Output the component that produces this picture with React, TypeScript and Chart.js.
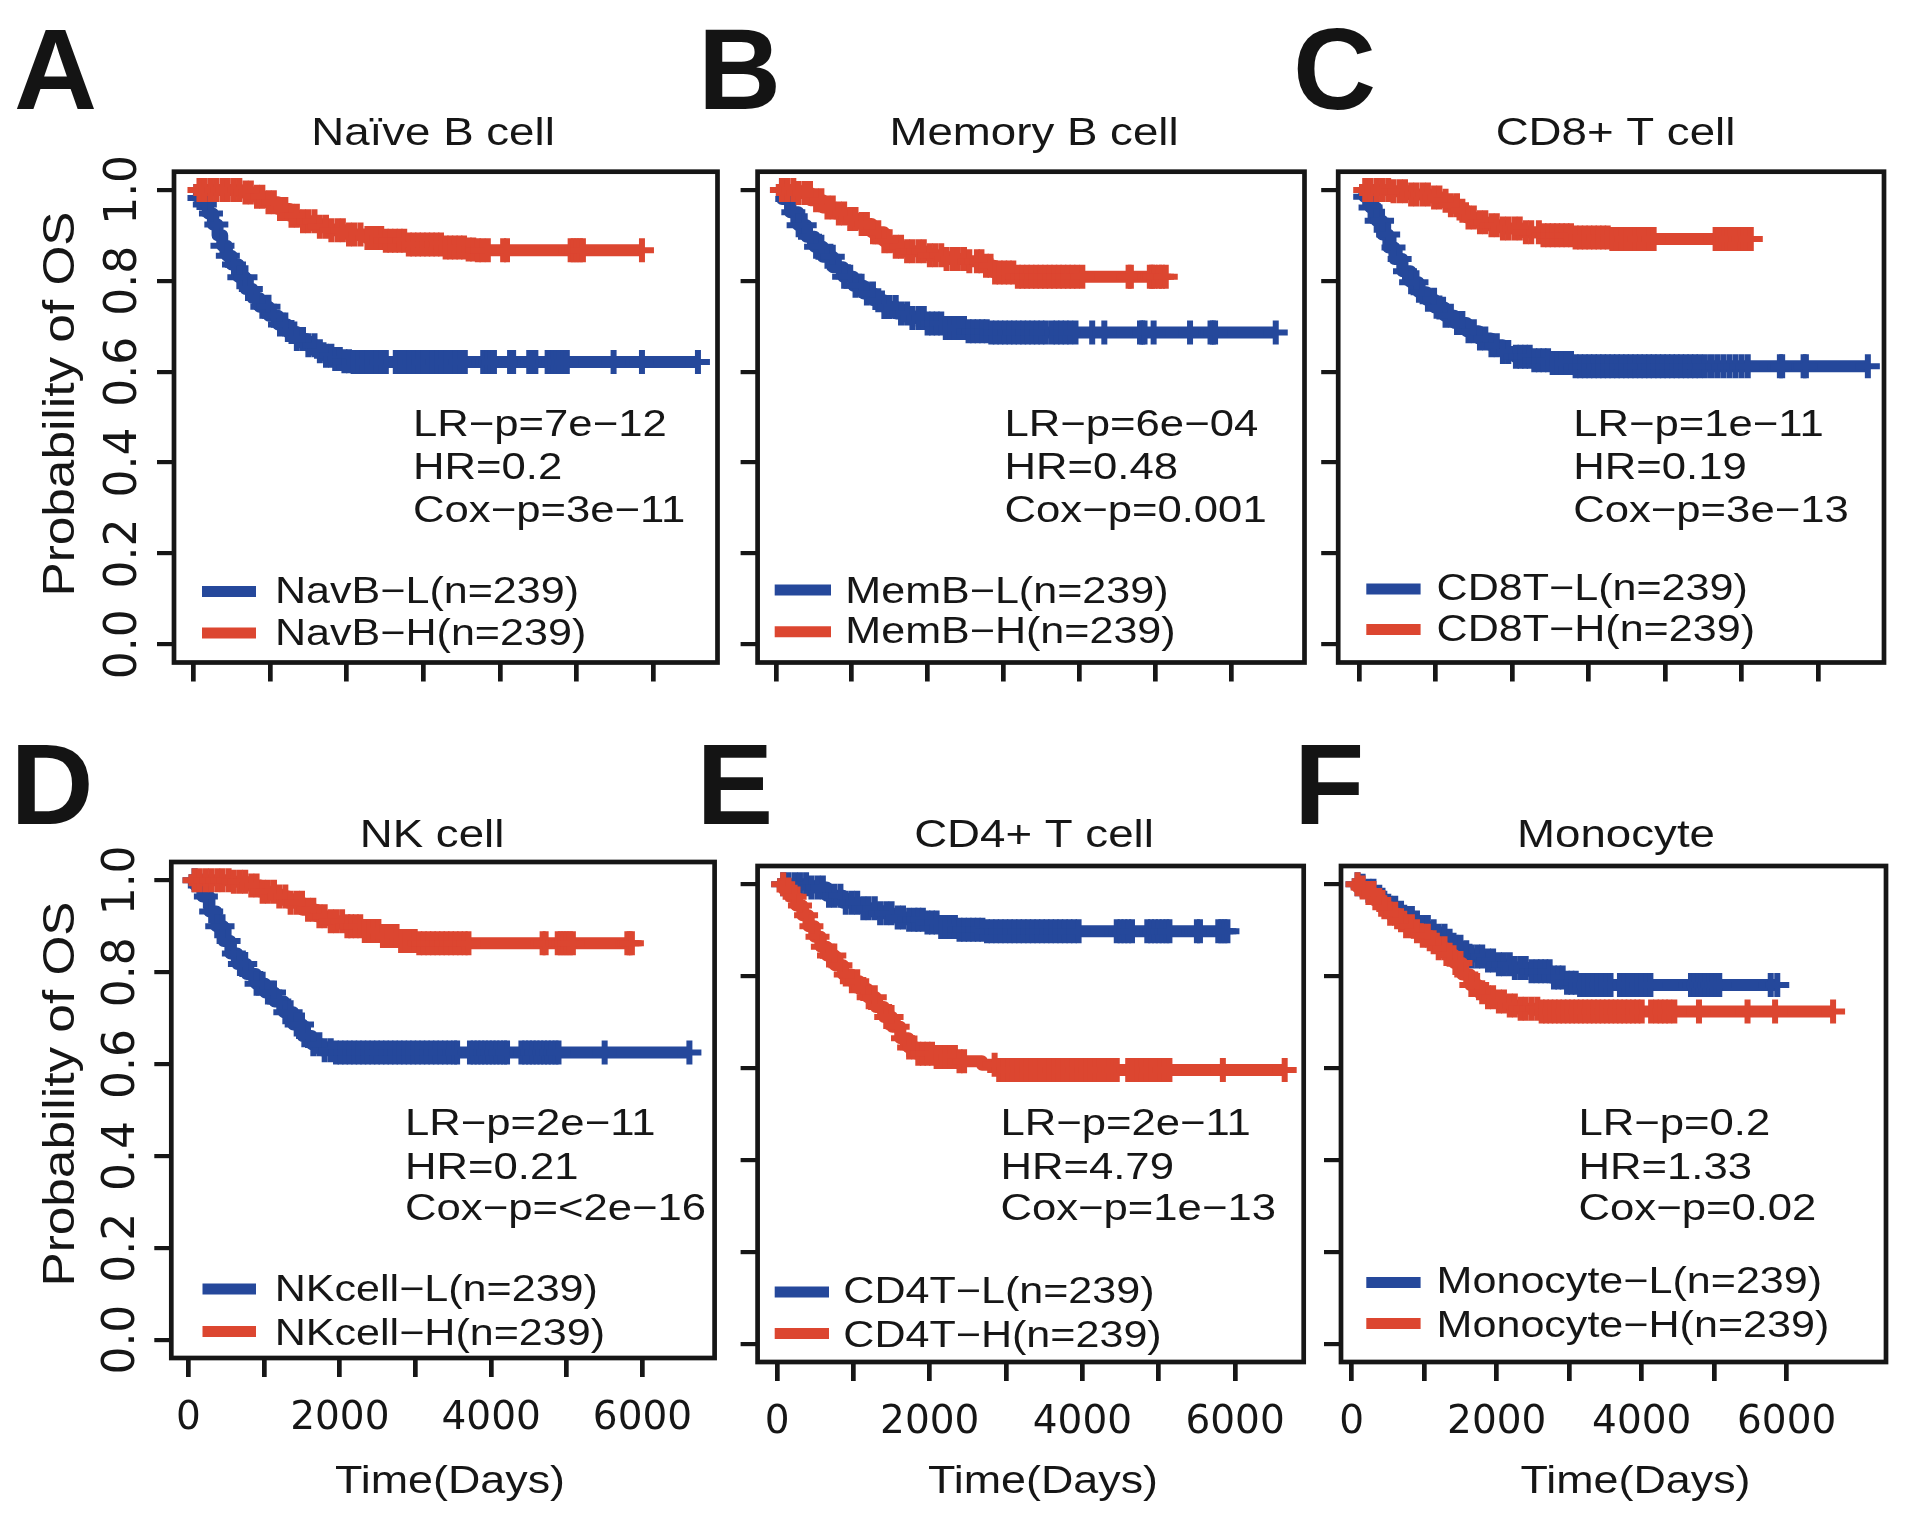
import React, { useEffect, useRef } from "react";
import { Chart, registerables } from "chart.js";

Chart.register(...registerables);

const W = 1920;
const H = 1527;
const BLUE = "#25489b";
const RED = "#dc4630";
const INK = "#161616";
const SX = 1.18; // horizontal widening of the text face

// ---------- axis ticks ----------
const xTickValues = [0, 1000, 2000, 3000, 4000, 5000, 6000];
const xTickLabels = ["0", "", "2000", "", "4000", "", "6000"];
const yTickValues = [0, 0.2, 0.4, 0.6, 0.8, 1.0];
const yTickLabels = ["0.0", "0.2", "0.4", "0.6", "0.8", "1.0"];

// ---------- texts ----------
const panelLetters = ["A", "B", "C", "D", "E", "F"];
const panelTitles = ["Naïve B cell", "Memory B cell", "CD8+ T cell", "NK cell", "CD4+ T cell", "Monocyte"];
const lowLabels = ["NavB−L(n=239)", "MemB−L(n=239)", "CD8T−L(n=239)", "NKcell−L(n=239)", "CD4T−L(n=239)", "Monocyte−L(n=239)"];
const highLabels = ["NavB−H(n=239)", "MemB−H(n=239)", "CD8T−H(n=239)", "NKcell−H(n=239)", "CD4T−H(n=239)", "Monocyte−H(n=239)"];
const lrText = ["LR−p=7e−12", "LR−p=6e−04", "LR−p=1e−11", "LR−p=2e−11", "LR−p=2e−11", "LR−p=0.2"];
const hrText = ["HR=0.2", "HR=0.48", "HR=0.19", "HR=0.21", "HR=4.79", "HR=1.33"];
const coxText = ["Cox−p=3e−11", "Cox−p=0.001", "Cox−p=3e−13", "Cox−p=<2e−16", "Cox−p=1e−13", "Cox−p=0.02"];
const yTitle = "Probability of OS";
const xTitle = "Time(Days)";

// ---------- Kaplan-Meier curves: step times (days), survival, censoring times ----------
// A  Naive B cell
const navbLTimes = [0, 73, 134, 195, 255, 316, 377, 438, 498, 590, 681, 772, 863, 985, 1106, 1228, 1350, 1471, 1593, 1714, 1836, 1957, 2079];
const navbLSurv = [1.0, 0.982, 0.968, 0.948, 0.924, 0.9, 0.877, 0.855, 0.836, 0.808, 0.782, 0.762, 0.743, 0.723, 0.704, 0.687, 0.672, 0.658, 0.645, 0.635, 0.628, 0.623, 0.621];
const navbLCensor = [80, 150, 230, 300, 380, 450, 530, 600, 680, 750, 830, 900, 980, 1050, 1130, 1200, 1280, 1350, 1430, 1500, 1580, 1650, 1730, 1800, 1850, 1910, 1970, 2030, 2090, 2150, 2210, 2270, 2330, 2390, 2450, 2510, 2640, 2700, 2760, 2820, 2880, 2940, 3000, 3060, 3120, 3180, 3240, 3300, 3360, 3420, 3480, 3540, 3780, 3830, 3880, 3920, 4130, 4170, 4380, 4420, 4460, 4620, 4660, 4700, 4740, 4780, 4830, 4870, 5480, 5850, 6580];
const navbHTimes = [0, 316, 620, 802, 954, 1106, 1258, 1410, 1593, 1775, 2018, 2261, 2505, 2808, 3234, 3538, 3700];
const navbHSurv = [1.0, 1.0, 0.994, 0.985, 0.973, 0.958, 0.943, 0.931, 0.919, 0.911, 0.902, 0.894, 0.888, 0.88, 0.873, 0.869, 0.867];
const navbHCensor = [80, 150, 230, 300, 380, 450, 530, 600, 680, 750, 830, 900, 980, 1050, 1130, 1200, 1280, 1350, 1430, 1500, 1580, 1650, 1730, 1800, 1880, 1950, 2030, 2100, 2180, 2270, 2330, 2390, 2450, 2510, 2570, 2630, 2690, 2750, 2810, 2870, 2930, 2990, 3050, 3110, 3170, 3230, 3290, 3350, 3410, 3470, 3530, 3590, 3650, 3710, 3770, 3840, 4040, 4090, 4920, 4960, 5000, 5040, 5080, 5850];

// B  Memory B cell
const membLTimes = [0, 81, 188, 296, 404, 511, 619, 753, 888, 1023, 1157, 1292, 1426, 1588, 1749, 1964, 2234, 2503, 2826];
const membLSurv = [1.0, 0.98, 0.951, 0.922, 0.897, 0.875, 0.853, 0.83, 0.809, 0.789, 0.772, 0.757, 0.742, 0.728, 0.718, 0.706, 0.696, 0.689, 0.686];
const membLCensor = [80, 150, 230, 300, 380, 450, 530, 600, 680, 750, 830, 900, 980, 1050, 1130, 1200, 1280, 1350, 1430, 1500, 1580, 1650, 1730, 1800, 1880, 1950, 2000, 2060, 2120, 2180, 2240, 2300, 2360, 2420, 2480, 2540, 2600, 2660, 2720, 2780, 2840, 2900, 2960, 3020, 3080, 3140, 3200, 3260, 3320, 3380, 3440, 3500, 3560, 3640, 3700, 3760, 3820, 3880, 3950, 4170, 4330, 4800, 4830, 4860, 4980, 5460, 5730, 5760, 5790, 6590];
const membHTimes = [0, 135, 296, 457, 619, 780, 942, 1103, 1265, 1426, 1534, 1695, 1964, 2234, 2503, 2718, 2880, 3149];
const membHSurv = [1.0, 1.0, 0.993, 0.977, 0.961, 0.948, 0.936, 0.925, 0.907, 0.887, 0.875, 0.865, 0.856, 0.848, 0.843, 0.833, 0.818, 0.809];
const membHCensor = [80, 150, 230, 300, 380, 450, 530, 600, 680, 750, 830, 900, 980, 1050, 1130, 1200, 1280, 1350, 1430, 1500, 1580, 1650, 1730, 1800, 1880, 1950, 2030, 2100, 2180, 2250, 2330, 2400, 2480, 2550, 2650, 2710, 2770, 2830, 2890, 2950, 3010, 3070, 3130, 3190, 3250, 3310, 3370, 3430, 3490, 3550, 3610, 3670, 3730, 3790, 3850, 3910, 3970, 4040, 4650, 4680, 4930, 4960, 4990, 5050, 5090, 5140];

// C  CD8+ T cell
const cd8LTimes = [0, 68, 147, 226, 304, 383, 462, 567, 672, 777, 882, 987, 1118, 1249, 1407, 1564, 1722, 1879, 2037, 2247, 2509, 2772];
const cd8LSurv = [1.0, 0.985, 0.961, 0.932, 0.902, 0.873, 0.848, 0.821, 0.797, 0.775, 0.758, 0.741, 0.723, 0.707, 0.689, 0.673, 0.658, 0.643, 0.633, 0.625, 0.619, 0.612];
const cd8LCensor = [80, 150, 230, 300, 380, 450, 530, 600, 680, 750, 830, 900, 980, 1050, 1130, 1200, 1280, 1350, 1430, 1500, 1580, 1650, 1730, 1800, 1880, 1950, 2050, 2110, 2170, 2230, 2290, 2350, 2410, 2470, 2530, 2590, 2650, 2710, 2770, 2830, 2890, 2950, 3010, 3070, 3130, 3190, 3250, 3310, 3370, 3430, 3490, 3550, 3610, 3670, 3730, 3790, 3850, 3910, 3970, 4030, 4090, 4150, 4210, 4270, 4330, 4390, 4450, 4520, 4600, 4680, 4760, 4840, 4920, 5000, 5080, 5500, 5530, 5810, 5840, 6650];
const cd8HTimes = [0, 147, 409, 672, 934, 1092, 1197, 1302, 1407, 1512, 1669, 1879, 2142, 2404, 2772, 3297];
const cd8HSurv = [1.0, 1.0, 0.997, 0.99, 0.983, 0.976, 0.966, 0.954, 0.939, 0.929, 0.922, 0.915, 0.907, 0.9, 0.895, 0.892];
const cd8HCensor = [80, 150, 230, 300, 380, 450, 530, 600, 680, 750, 830, 900, 980, 1050, 1130, 1200, 1280, 1350, 1430, 1500, 1580, 1650, 1730, 1800, 1880, 1950, 2030, 2100, 2180, 2250, 2350, 2410, 2470, 2530, 2590, 2650, 2710, 2770, 2830, 2890, 2950, 3010, 3070, 3130, 3190, 3250, 3310, 3370, 3430, 3490, 3550, 3610, 3670, 3730, 3790, 3850, 4660, 4700, 4740, 4780, 4820, 4860, 4900, 4940, 4980, 5020, 5060, 5100, 5120];

// D  NK cell
const nkLTimes = [0, 92, 185, 277, 369, 462, 554, 646, 769, 892, 1015, 1138, 1262, 1385, 1508, 1631, 1754, 1938];
const nkLSurv = [1.0, 0.989, 0.965, 0.932, 0.9, 0.868, 0.841, 0.818, 0.796, 0.775, 0.756, 0.736, 0.713, 0.686, 0.661, 0.643, 0.63, 0.625];
const nkLCensor = [80, 150, 230, 300, 380, 450, 530, 600, 680, 750, 830, 900, 980, 1050, 1130, 1200, 1280, 1350, 1430, 1500, 1580, 1650, 1730, 1800, 1880, 1950, 2010, 2070, 2130, 2190, 2250, 2310, 2370, 2430, 2490, 2550, 2610, 2670, 2730, 2790, 2850, 2910, 2970, 3030, 3090, 3150, 3210, 3270, 3330, 3390, 3450, 3510, 3550, 3720, 3770, 3820, 3870, 3920, 3970, 4020, 4070, 4120, 4170, 4210, 4400, 4450, 4500, 4550, 4600, 4650, 4700, 4750, 4800, 4850, 4890, 5500, 6620];
const nkHTimes = [0, 585, 769, 954, 1138, 1323, 1508, 1692, 1877, 2062, 2308, 2554, 2800, 3046];
const nkHSurv = [1.0, 0.997, 0.989, 0.975, 0.965, 0.951, 0.936, 0.922, 0.911, 0.9, 0.89, 0.879, 0.868, 0.863];
const nkHCensor = [80, 150, 230, 300, 380, 450, 530, 600, 680, 750, 830, 900, 980, 1050, 1130, 1200, 1280, 1350, 1430, 1500, 1580, 1650, 1730, 1800, 1880, 1950, 2030, 2100, 2150, 2210, 2270, 2330, 2390, 2450, 2510, 2570, 2630, 2690, 2750, 2810, 2870, 2930, 2990, 3050, 3110, 3170, 3230, 3290, 3350, 3410, 3470, 3530, 3590, 3650, 3700, 4680, 4720, 4880, 4920, 4960, 5000, 5040, 5080, 5800, 5830, 5860];

// E  CD4+ T cell
const cd4LTimes = [0, 225, 439, 652, 866, 1080, 1294, 1508, 1722, 1936, 2150, 2364, 2738];
const cd4LSurv = [1.0, 1.0, 0.993, 0.975, 0.96, 0.948, 0.937, 0.928, 0.923, 0.917, 0.907, 0.901, 0.898];
const cd4LCensor = [80, 150, 230, 300, 380, 450, 530, 600, 680, 750, 830, 900, 980, 1050, 1130, 1200, 1280, 1350, 1430, 1500, 1580, 1650, 1730, 1800, 1850, 1910, 1970, 2030, 2090, 2150, 2210, 2270, 2330, 2390, 2450, 2510, 2570, 2630, 2690, 2750, 2810, 2870, 2930, 2990, 3050, 3110, 3170, 3230, 3290, 3350, 3410, 3470, 3530, 3590, 3650, 3710, 3770, 3830, 3890, 3950, 4450, 4500, 4550, 4600, 4650, 4850, 4900, 4950, 5000, 5050, 5100, 5140, 5500, 5540, 5780, 5820, 5860, 5900];
const cd4HTimes = [0, 91, 171, 251, 332, 412, 492, 572, 652, 759, 866, 973, 1080, 1187, 1294, 1401, 1508, 1615, 1722, 1829, 2043, 2364, 2684, 2898];
const cd4HSurv = [1.0, 0.989, 0.973, 0.954, 0.933, 0.909, 0.886, 0.864, 0.845, 0.824, 0.804, 0.789, 0.772, 0.754, 0.733, 0.711, 0.69, 0.665, 0.645, 0.631, 0.624, 0.615, 0.607, 0.596];
const cd4HCensor = [80, 150, 230, 300, 380, 450, 530, 600, 680, 750, 830, 900, 980, 1050, 1130, 1200, 1280, 1350, 1430, 1500, 1580, 1650, 1730, 1800, 1850, 1910, 1970, 2030, 2090, 2150, 2210, 2270, 2330, 2390, 2450, 2850, 2910, 2970, 3030, 3090, 3150, 3210, 3270, 3330, 3390, 3450, 3510, 3570, 3630, 3690, 3750, 3810, 3870, 3930, 3990, 4050, 4110, 4170, 4230, 4290, 4350, 4410, 4450, 4600, 4660, 4720, 4780, 4840, 4900, 4960, 5020, 5080, 5140, 5840, 6650];

// F  Monocyte
const monoLTimes = [0, 83, 194, 305, 416, 526, 637, 748, 859, 970, 1080, 1191, 1302, 1413, 1524, 1634, 1801, 1967, 2188, 2465, 2742, 2964, 3130];
const monoLSurv = [1.0, 0.997, 0.986, 0.973, 0.96, 0.949, 0.938, 0.927, 0.917, 0.907, 0.898, 0.888, 0.877, 0.864, 0.852, 0.843, 0.834, 0.826, 0.818, 0.811, 0.797, 0.786, 0.781];
const monoLCensor = [80, 150, 230, 300, 380, 450, 530, 600, 680, 750, 830, 900, 980, 1050, 1130, 1200, 1280, 1350, 1430, 1500, 1580, 1650, 1730, 1800, 1880, 1950, 2030, 2100, 2180, 2250, 2330, 2400, 2480, 2550, 2610, 2670, 2730, 2790, 2850, 2910, 2970, 3030, 3090, 3150, 3210, 3270, 3330, 3390, 3450, 3510, 3570, 3700, 3760, 3820, 3880, 3940, 4000, 4060, 4120, 4680, 4730, 4780, 4830, 4880, 4930, 4980, 5030, 5070, 5780, 5870];
const monoHTimes = [0, 83, 194, 305, 416, 526, 637, 748, 859, 970, 1080, 1191, 1302, 1413, 1524, 1634, 1745, 1856, 1967, 2133, 2299, 2576];
const monoHSurv = [1.0, 0.993, 0.981, 0.966, 0.95, 0.936, 0.922, 0.909, 0.898, 0.888, 0.874, 0.861, 0.847, 0.829, 0.804, 0.781, 0.765, 0.754, 0.745, 0.736, 0.729, 0.723];
const monoHCensor = [80, 150, 230, 300, 380, 450, 530, 600, 680, 750, 830, 900, 980, 1050, 1130, 1200, 1280, 1350, 1430, 1500, 1580, 1650, 1730, 1800, 1880, 1950, 2030, 2100, 2180, 2250, 2330, 2400, 2480, 2560, 2620, 2680, 2740, 2800, 2860, 2920, 2980, 3040, 3100, 3160, 3220, 3280, 3340, 3400, 3460, 3520, 3580, 3640, 3700, 3760, 3820, 3880, 3940, 4000, 4130, 4200, 4260, 4320, 4380, 4450, 4790, 5460, 5840, 6640];

const curvesLow = [
  [navbLTimes, navbLSurv, navbLCensor],
  [membLTimes, membLSurv, membLCensor],
  [cd8LTimes, cd8LSurv, cd8LCensor],
  [nkLTimes, nkLSurv, nkLCensor],
  [cd4LTimes, cd4LSurv, cd4LCensor],
  [monoLTimes, monoLSurv, monoLCensor],
];
const curvesHigh = [
  [navbHTimes, navbHSurv, navbHCensor],
  [membHTimes, membHSurv, membHCensor],
  [cd8HTimes, cd8HSurv, cd8HCensor],
  [nkHTimes, nkHSurv, nkHCensor],
  [cd4HTimes, cd4HSurv, cd4HCensor],
  [monoHTimes, monoHSurv, monoHCensor],
];

// ---------- layout (page pixels) ----------
type Layout = {
  box: { l: number; t: number; r: number; b: number };
  xr: [number, number];
  showX: boolean;
  showY: boolean;
  letter: [number, number];
  title: [number, number];
  ann: { x: number; y: number[] };
  leg: { x1: number; x2: number; tx: number; ly: number[]; ty: number[] };
  xTitle?: [number, number];
  yTitle?: [number, number];
};

const LAYOUT: Layout[] = [
  {
    box: { l: 174, t: 171.7, r: 717.5, b: 662.5 }, xr: [-252, 6835], showX: false, showY: true,
    letter: [14, 109], title: [433, 145], ann: { x: 413, y: [436, 479, 522] },
    leg: { x1: 202, x2: 256, tx: 275, ly: [591.5, 633], ty: [603, 645] }, yTitle: [74, 404],
  },
  {
    box: { l: 757.6, t: 171.7, r: 1304.5, b: 662.5 }, xr: [-241, 6969], showX: false, showY: false,
    letter: [698, 109], title: [1034, 145], ann: { x: 1004.5, y: [436, 479, 522] },
    leg: { x1: 774.7, x2: 831, tx: 845.3, ly: [590, 631.7], ty: [602.7, 643] },
  },
  {
    box: { l: 1338.2, t: 171.7, r: 1884, b: 662.5 }, xr: [-273, 6861], showX: false, showY: false,
    letter: [1293, 109], title: [1615.5, 145], ann: { x: 1573.2, y: [436, 479, 522] },
    leg: { x1: 1366.3, x2: 1420.6, tx: 1436.6, ly: [589, 629.5], ty: [600.4, 640.6] },
  },
  {
    box: { l: 171.3, t: 862, r: 714.6, b: 1358 }, xr: [-227, 6953], showX: true, showY: true,
    letter: [10.6, 824], title: [432, 847], ann: { x: 405, y: [1135, 1179, 1220] },
    leg: { x1: 202.5, x2: 256, tx: 274.7, ly: [1289, 1331.4], ty: [1300.6, 1344.6] },
    xTitle: [450, 1493], yTitle: [74, 1094],
  },
  {
    box: { l: 757.6, t: 866, r: 1303.7, b: 1362 }, xr: [-255, 6899], showX: true, showY: false,
    letter: [696.5, 824], title: [1034, 847], ann: { x: 1000.4, y: [1135, 1179, 1220] },
    leg: { x1: 774.7, x2: 829, tx: 843.3, ly: [1292, 1333.4], ty: [1303, 1347] },
    xTitle: [1043, 1493],
  },
  {
    box: { l: 1341, t: 866, r: 1886, b: 1362 }, xr: [-148, 7370], showX: true, showY: false,
    letter: [1294, 824], title: [1616, 847], ann: { x: 1578.5, y: [1135, 1179, 1220] },
    leg: { x1: 1366.3, x2: 1420.6, tx: 1436.6, ly: [1282.5, 1323.6], ty: [1293, 1337] },
    xTitle: [1635.5, 1493],
  },
];

const Y_AXIS_W = 170;
const X_AXIS_H = 160;

function kmLine(times: number[], surv: number[], censor: number[]) {
  const pts = times.map((t, i) => ({ x: t, y: surv[i] }));
  pts.push({ x: censor[censor.length - 1], y: surv[surv.length - 1] });
  return pts;
}

function kmCensor(times: number[], surv: number[], censor: number[]) {
  return censor.map((t) => {
    let s = surv[0];
    for (let i = 0; i < times.length; i++) if (times[i] <= t) s = surv[i];
    return { x: t, y: s };
  });
}

function drawText(
  ctx: CanvasRenderingContext2D,
  text: string,
  x: number,
  y: number,
  size: number,
  align: CanvasTextAlign,
  rotate = false
) {
  ctx.save();
  ctx.translate(x, y);
  if (rotate) ctx.rotate(-Math.PI / 2);
  ctx.scale(SX, 1);
  ctx.font = `${size}px "Liberation Sans", Arial, sans-serif`;
  ctx.textAlign = align;
  ctx.textBaseline = "alphabetic";
  ctx.fillStyle = INK;
  ctx.fillText(text, 0, 0);
  ctx.restore();
}

function makeDecor(p: Layout, i: number) {
  return {
    id: "decor" + i,
    afterDraw(chart: any) {
      const ctx: CanvasRenderingContext2D = chart.ctx;
      const a = chart.chartArea;
      ctx.save();
      ctx.strokeStyle = INK;
      ctx.lineWidth = 4.7;
      ctx.strokeRect(a.left, a.top, a.right - a.left, a.bottom - a.top);

      ctx.font = `bold 115px "Liberation Sans", Arial, sans-serif`;
      ctx.fillStyle = "#141414";
      ctx.textAlign = "left";
      ctx.textBaseline = "alphabetic";
      ctx.fillText(panelLetters[i], p.letter[0], p.letter[1]);

      drawText(ctx, panelTitles[i], p.title[0], p.title[1], 38.7, "center");

      drawText(ctx, lrText[i], p.ann.x, p.ann.y[0], 37, "left");
      drawText(ctx, hrText[i], p.ann.x, p.ann.y[1], 37, "left");
      drawText(ctx, coxText[i], p.ann.x, p.ann.y[2], 37, "left");

      ctx.lineWidth = 11;
      ctx.lineCap = "butt";
      [BLUE, RED].forEach((c, k) => {
        ctx.strokeStyle = c;
        ctx.beginPath();
        ctx.moveTo(p.leg.x1, p.leg.ly[k]);
        ctx.lineTo(p.leg.x2, p.leg.ly[k]);
        ctx.stroke();
      });
      drawText(ctx, lowLabels[i], p.leg.tx, p.leg.ty[0], 36.5, "left");
      drawText(ctx, highLabels[i], p.leg.tx, p.leg.ty[1], 36.5, "left");

      if (p.xTitle) drawText(ctx, xTitle, p.xTitle[0], p.xTitle[1], 38, "center");
      if (p.yTitle) drawText(ctx, yTitle, p.yTitle[0], p.yTitle[1], 43.5, "center", true);
      ctx.restore();
    },
  };
}

function buildConfig(i: number): any {
  const p = LAYOUT[i];
  const [lT, lS, lC] = curvesLow[i];
  const [hT, hS, hC] = curvesHigh[i];
  const censorStyle = { pointStyle: "cross", pointRadius: 12, pointBorderWidth: 6, showLine: false };
  const lineStyle = { borderWidth: 12, pointRadius: 0, stepped: true, fill: false, borderJoinStyle: "round" };
  return {
    type: "line",
    data: {
      datasets: [
        { type: "scatter", label: highLabels[i] + " censored", data: kmCensor(hT, hS, hC), borderColor: RED, backgroundColor: RED, order: 0, ...censorStyle },
        { type: "line", label: highLabels[i], data: kmLine(hT, hS, hC), borderColor: RED, order: 1, ...lineStyle },
        { type: "scatter", label: lowLabels[i] + " censored", data: kmCensor(lT, lS, lC), borderColor: BLUE, backgroundColor: BLUE, order: 2, ...censorStyle },
        { type: "line", label: lowLabels[i], data: kmLine(lT, lS, lC), borderColor: BLUE, order: 3, ...lineStyle },
      ],
    },
    options: {
      animation: false,
      responsive: false,
      devicePixelRatio: 1,
      events: [],
      layout: {
        padding: {
          left: p.box.l - Y_AXIS_W,
          top: p.box.t,
          right: W - p.box.r,
          bottom: H - p.box.b - X_AXIS_H,
        },
      },
      plugins: { legend: { display: false }, tooltip: { enabled: false }, title: { display: false } },
      scales: {
        x: {
          type: "linear",
          min: p.xr[0],
          max: p.xr[1],
          afterFit: (s: any) => { s.height = X_AXIS_H; },
          afterBuildTicks: (s: any) => { s.ticks = xTickValues.map((v) => ({ value: v })); },
          grid: {
            display: true, drawOnChartArea: false, drawTicks: true, tickLength: 19,
            tickWidth: 4.7, lineWidth: 4.7, tickColor: INK, color: INK,
          },
          border: { display: false },
          ticks: {
            autoSkip: false, minRotation: 0, maxRotation: 0, padding: 18, color: INK,
            font: { family: "DejaVu Sans", size: 39 },
            callback: (_v: any, idx: number) => (p.showX ? xTickLabels[idx] : ""),
          },
        },
        y: {
          type: "linear",
          min: -0.04,
          max: 1.04,
          afterFit: (s: any) => { s.width = Y_AXIS_W; },
          afterBuildTicks: (s: any) => { s.ticks = yTickValues.map((v) => ({ value: v })); },
          grid: {
            display: true, drawOnChartArea: false, drawTicks: true, tickLength: 17,
            tickWidth: 4.2, lineWidth: 4.2, tickColor: INK, color: INK,
          },
          border: { display: false },
          ticks: {
            autoSkip: false, minRotation: 90, maxRotation: 90, crossAlign: "center", padding: -3, color: INK,
            font: { family: "DejaVu Sans", size: 44 },
            callback: (_v: any, idx: number) => (p.showY ? yTickLabels[idx] : ""),
          },
        },
      },
    },
    plugins: [makeDecor(p, i)],
  };
}

export default function App() {
  const refs = useRef<(HTMLCanvasElement | null)[]>([]);
  useEffect(() => {
    const charts = LAYOUT.map((_, i) => new Chart(refs.current[i] as HTMLCanvasElement, buildConfig(i)));
    return () => charts.forEach((c) => c.destroy());
  }, []);
  return (
    <div
      style={{
        position: "absolute", left: 0, top: 0, width: W, height: H,
        background: "#ffffff", overflow: "hidden",
      }}
    >
      {LAYOUT.map((_, i) => (
        <canvas
          key={i}
          ref={(el) => { refs.current[i] = el; }}
          width={W}
          height={H}
          style={{ position: "absolute", left: 0, top: 0, width: W, height: H }}
        />
      ))}
    </div>
  );
}
